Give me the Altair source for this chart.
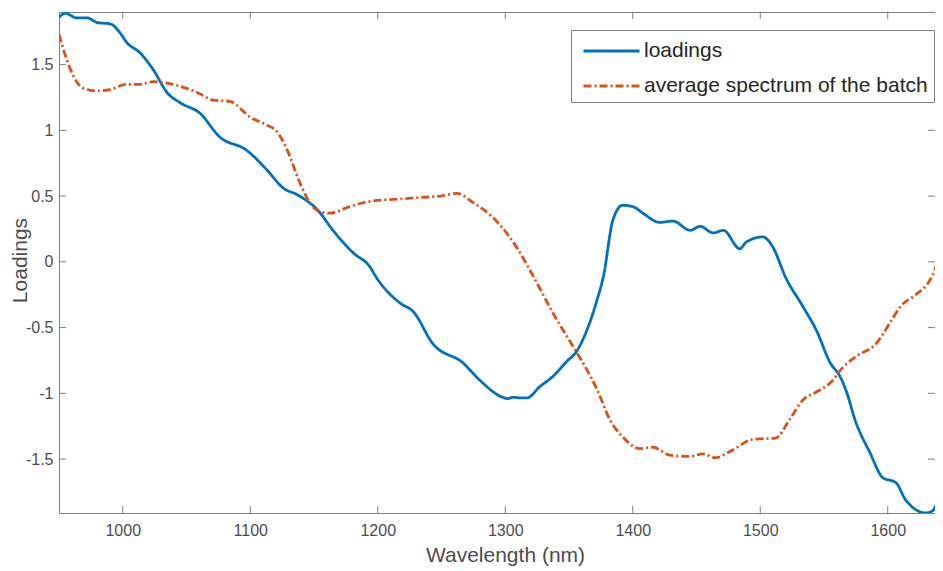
import altair as alt
import pandas as pd

# ---- data ----
loadings_nm = [950, 955, 964, 972, 980, 990, 998, 1003, 1013.5, 1024, 1035, 1045, 1060.6, 1076, 1097,
               1113, 1126, 1137, 1155, 1162.5, 1180.6, 1194, 1199, 1217, 1228, 1243, 1267, 1280, 1298,
               1302, 1306, 1312, 1317, 1327, 1337.5, 1348, 1356, 1364, 1372, 1377, 1384.5, 1392, 1400,
               1408, 1421, 1431.6, 1445, 1453, 1463, 1471, 1484, 1489, 1502, 1510, 1520, 1533.5, 1544,
               1555, 1562.5, 1567, 1575, 1586, 1596, 1606.5, 1614, 1630, 1635.5, 1643, 1650]
loadings_val = [1.86, 1.89, 1.855, 1.855, 1.82, 1.81, 1.74, 1.67, 1.59, 1.46, 1.285, 1.21, 1.13, 0.95, 0.85,
                0.70, 0.56, 0.51, 0.37, 0.27, 0.07, -0.04, -0.12, -0.31, -0.38, -0.62, -0.77, -0.90, -1.03,
                -1.04, -1.03, -1.035, -1.035, -0.95, -0.87, -0.76, -0.68, -0.52, -0.29, -0.11, 0.32, 0.43, 0.42,
                0.37, 0.30, 0.31, 0.24, 0.27, 0.22, 0.24, 0.10, 0.15, 0.19, 0.11, -0.12, -0.34, -0.52,
                -0.77, -0.87, -0.97, -1.22, -1.45, -1.64, -1.68, -1.81, -1.91, -1.89, -1.71, -1.55]

avg_nm = [950, 956, 962, 969, 980, 990, 1003, 1013.5, 1024, 1039, 1058, 1071, 1084, 1100, 1113, 1121,
          1129, 1139, 1148, 1155, 1162.5, 1178, 1194, 1220, 1233, 1249, 1262, 1275, 1290, 1301, 1309,
          1322, 1337.5, 1353, 1364, 1372, 1382, 1392, 1405.7, 1416, 1429, 1445, 1455, 1464.5, 1478.6,
          1494, 1512, 1523, 1533.5, 1544, 1555, 1565, 1575, 1591, 1602, 1610, 1622, 1633, 1637, 1643, 1650]
avg_val = [1.73, 1.54, 1.40, 1.32, 1.30, 1.31, 1.35, 1.35, 1.37, 1.35, 1.29, 1.23, 1.22, 1.10, 1.04, 0.99,
           0.85, 0.60, 0.43, 0.38, 0.37, 0.42, 0.46, 0.48, 0.49, 0.50, 0.52, 0.45, 0.34, 0.22, 0.11,
           -0.11, -0.39, -0.64, -0.82, -0.97, -1.20, -1.33, -1.42, -1.41, -1.47, -1.48, -1.46, -1.49, -1.43,
           -1.35, -1.34, -1.20, -1.05, -0.99, -0.92, -0.80, -0.72, -0.62, -0.46, -0.34, -0.25, -0.14, -0.06, 0.17, 0.45]

series_names = ["loadings", "average spectrum of the batch"]
series_colors = ["#0072BD", "#D95319"]
series_dash = [[1, 0], [8, 3, 2, 3]]

x_ticks = [1000, 1100, 1200, 1300, 1400, 1500, 1600]
y_ticks = [-1.5, -1, -0.5, 0, 0.5, 1, 1.5]

x_domain = [950, 1637.06]
y_domain = [-1.91, 1.90]

W, H = 876, 501
AXIS = "#808080"
TXT = "#4d4d4d"
FONT = "Liberation Sans"

df = pd.concat([
    pd.DataFrame({"series": series_names[0], "nm": loadings_nm, "value": loadings_val, "order": range(len(loadings_nm))}),
    pd.DataFrame({"series": series_names[1], "nm": avg_nm, "value": avg_val, "order": range(len(avg_nm))}),
])

xscale = alt.Scale(domain=x_domain, nice=False, zero=False)
yscale = alt.Scale(domain=y_domain, nice=False, zero=False)
XT = "Wavelength (nm)"
YT = "Loadings"

lines = alt.Chart(df).mark_line(strokeWidth=2.8, clip=True, interpolate="monotone").encode(
    x=alt.X("nm:Q", scale=xscale, title=XT,
            axis=alt.Axis(values=x_ticks, ticks=False, domain=False, grid=False,
                          labelFontSize=16, labelColor=TXT, labelFont=FONT, labelPadding=9,
                          labelExpr="toString(datum.value)",
                          titleFontSize=21, titleFont=FONT, titleColor=TXT, titleFontWeight="normal",
                          titleX=446, titleY=48, titleBaseline="alphabetic")),
    y=alt.Y("value:Q", scale=yscale, title=YT,
            axis=alt.Axis(values=y_ticks, ticks=False, domain=False, grid=False,
                          labelFontSize=16, labelColor=TXT, labelFont=FONT, labelPadding=6,
                          labelExpr="toString(datum.value)",
                          titleFontSize=21, titleFont=FONT, titleColor=TXT, titleFontWeight="normal",
                          titleX=-32.5, titleY=248, titleBaseline="alphabetic")),
    color=alt.Color("series:N", scale=alt.Scale(domain=series_names, range=series_colors),
                    legend=alt.Legend(orient="none", legendX=512, legendY=18, title=None,
                                      symbolType="M-0.63,0L3.52,0", symbolSize=729, symbolStrokeWidth=3,
                                      labelFontSize=21, labelFont=FONT, labelColor="#262626",
                                      labelOffset=37, labelLimit=0, padding=6, rowPadding=10,
                                      strokeColor=AXIS, fillColor="white", cornerRadius=0)),
    strokeDash=alt.StrokeDash("series:N", scale=alt.Scale(domain=series_names, range=series_dash)),
    order="order:Q",
)

xt = pd.DataFrame({"nm": x_ticks})
yt = pd.DataFrame({"value": y_ticks})

bottom_ticks = alt.Chart(xt).mark_rule(color=AXIS, strokeWidth=1).encode(
    x=alt.X("nm:Q", scale=xscale, title=XT), y=alt.value(H), y2=alt.value(H - 7))
top_ticks = alt.Chart(xt).mark_rule(color=AXIS, strokeWidth=1).encode(
    x=alt.X("nm:Q", scale=xscale, title=XT), y=alt.value(0), y2=alt.value(7))
left_ticks = alt.Chart(yt).mark_rule(color=AXIS, strokeWidth=1).encode(
    y=alt.Y("value:Q", scale=yscale, title=YT), x=alt.value(0), x2=alt.value(7))
right_ticks = alt.Chart(yt).mark_rule(color=AXIS, strokeWidth=1).encode(
    y=alt.Y("value:Q", scale=yscale, title=YT), x=alt.value(W), x2=alt.value(W - 7))

chart = alt.layer(lines, bottom_ticks, top_ticks, left_ticks, right_ticks).properties(
    width=W, height=H,
    autosize=alt.AutoSizeParams(type="none"),
    padding={"left": 51, "top": 4, "right": 0, "bottom": 55},
    background="white",
).configure_view(stroke=AXIS, strokeWidth=1)

chart.save("out.html", embed_options={"renderer": "svg", "actions": False})
